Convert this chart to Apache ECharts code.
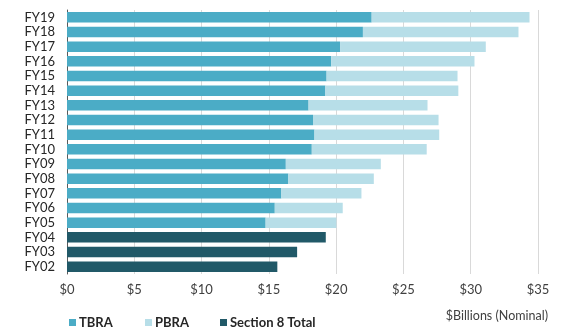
<!DOCTYPE html>
<html>
<head>
<meta charset="utf-8">
<script src="https://cdn.jsdelivr.net/npm/echarts@6/dist/echarts.min.js"></script>
<style>html,body{margin:0;padding:0;background:#fff}#c{width:576px;height:335px}</style>
</head>
<body>
<div id="c"></div>
<script>
const categories = ['FY02','FY03','FY04','FY05','FY06','FY07','FY08','FY09','FY10','FY11','FY12','FY13','FY14','FY15','FY16','FY17','FY18','FY19'];
const tbra = [null,null,null,14.76,15.44,15.93,16.45,16.26,18.19,18.39,18.28,17.95,19.20,19.29,19.64,20.29,21.99,22.64];
const pbra = [null,null,null,5.26,5.05,5.95,6.35,7.06,8.54,9.27,9.33,8.84,9.88,9.73,10.64,10.83,11.56,11.73];
const section8Total = [15.63,17.10,19.23,null,null,null,null,null,null,null,null,null,null,null,null,null,null,null];
const xTicks = [0,5,10,15,20,25,30,35];

const FONT = 'Lato, "Liberation Sans", sans-serif';
const chart = echarts.init(document.getElementById('c'));
const legendBase = {
  top: 311, itemWidth: 7, itemHeight: 7, itemGap: 3,
  icon: 'rect',
  textStyle: {fontFamily: FONT, fontSize: 13, fontWeight: 'bold', color: '#262626', padding: [0,0,0,-2]}
};
chart.setOption({
  animation: false,
  grid: {left: 67, width: 471, top: 10, height: 264, containLabel: false},
  title: {
    text: '$Billions (Nominal)', right: 23, top: 304,
    textStyle: {fontFamily: FONT, fontSize: 12.5, fontWeight: 'normal', color: '#404040'}
  },
  legend: [
    Object.assign({}, legendBase, {left: 64, data: ['TBRA']}),
    Object.assign({}, legendBase, {left: 140, data: ['PBRA']}),
    Object.assign({}, legendBase, {left: 215, data: ['Section 8 Total']})
  ],
  xAxis: {
    type: 'value', min: xTicks[0], max: xTicks[xTicks.length-1], interval: 5,
    axisLine: {show: false}, axisTick: {show: false},
    splitLine: {lineStyle: {color: '#D9D9D9', width: 1}},
    axisLabel: {formatter: v => '$' + v, fontFamily: FONT, fontSize: 13, color: '#404040', margin: 9}
  },
  yAxis: {
    type: 'category', data: categories,
    axisLine: {show: true, lineStyle: {color: '#595959', width: 1}},
    axisTick: {show: false},
    axisLabel: {interval: 0, fontFamily: FONT, fontSize: 13, color: '#262626', margin: 12}
  },
  series: [
    {name: 'TBRA', type: 'bar', stack: 's', data: tbra, barCategoryGap: '28%', itemStyle: {color: '#4BACC6'}},
    {name: 'PBRA', type: 'bar', stack: 's', data: pbra, itemStyle: {color: '#B7DEE8'}},
    {name: 'Section 8 Total', type: 'bar', stack: 's', data: section8Total, itemStyle: {color: '#215968'}}
  ]
});
</script>
</body>
</html>
